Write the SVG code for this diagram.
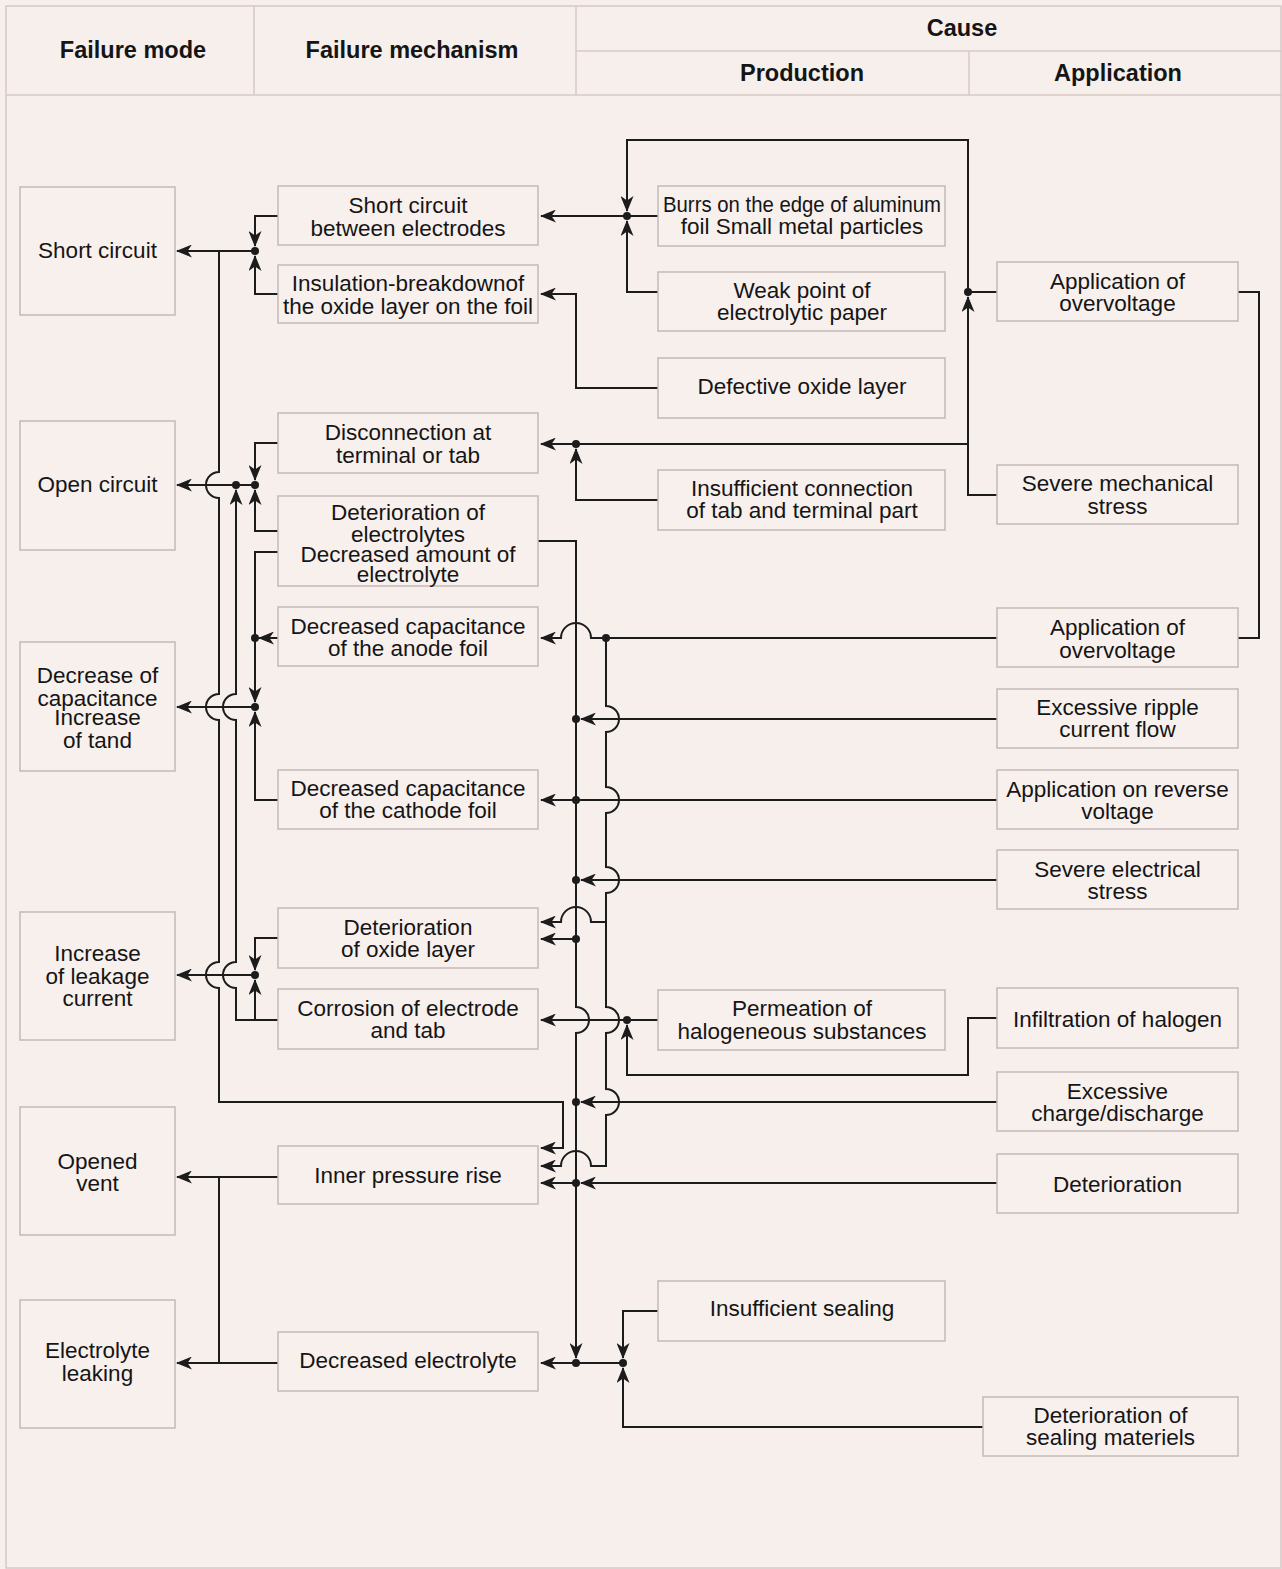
<svg xmlns="http://www.w3.org/2000/svg" width="1282" height="1569" viewBox="0 0 1282 1569">
<style>
.bg{fill:#f7efec}
.grid{stroke:#d8c8c6;stroke-width:1.5;fill:none}
.hd{font-family:"Liberation Sans",Arial,sans-serif;font-size:23.5px;font-weight:bold;fill:#151515;text-anchor:middle}
.box{fill:#f8f0ed;stroke:#c3bab8;stroke-width:1.5}
.t{font-family:"Liberation Sans",Arial,sans-serif;font-size:22.5px;fill:#151515;text-anchor:middle}
.c{fill:none;stroke:#1c1c1c;stroke-width:2}
.a{marker-end:url(#ah)}
.d{fill:#1c1c1c}
</style>
<defs>
<marker id="ah" viewBox="0 0 16 13" refX="15" refY="6.5" markerWidth="16" markerHeight="13" markerUnits="userSpaceOnUse" orient="auto">
<path d="M0,0 L16,6.5 L0,13 L4.5,6.5 Z" fill="#1c1c1c"/>
</marker>
</defs>
<rect class="bg" x="0" y="0" width="1282" height="1569"/>
<g id="header">
<rect class="grid" x="6" y="6" width="1275" height="1562"/>
<line class="grid" x1="6" y1="95" x2="1282" y2="95"/>
<line class="grid" x1="254" y1="6" x2="254" y2="95"/>
<line class="grid" x1="576" y1="6" x2="576" y2="95"/>
<line class="grid" x1="576" y1="51" x2="1282" y2="51"/>
<line class="grid" x1="969" y1="51" x2="969" y2="95"/>
<text class="hd" x="133" y="58">Failure mode</text>
<text class="hd" x="412" y="58">Failure mechanism</text>
<text class="hd" x="962" y="36">Cause</text>
<text class="hd" x="802" y="81">Production</text>
<text class="hd" x="1118" y="81">Application</text>
</g>

<g id="connectors">
<!-- short circuit group -->
<path class="c a" d="M255,251 L177,251"/>
<path class="c a" d="M278,216 L255,216 L255,246"/>
<path class="c a" d="M278,294 L255,294 L255,256"/>
<path class="c a" d="M219,251 L219,472 A13,13 0 0 0 219,498 L219,694 A13,13 0 0 0 219,720 L219,962 A13,13 0 0 0 219,988 L219,1102 L563,1102 L563,1148 L541,1148"/>
<!-- open circuit group -->
<path class="c a" d="M255,485 L177,485"/>
<path class="c a" d="M278,443 L255,443 L255,480"/>
<path class="c a" d="M278,531 L255,531 L255,490"/>
<path class="c a" d="M278,1020 L236,1020 L236,988 A13,13 0 0 1 236,962 L236,720 A13,13 0 0 1 236,694 L236,490"/>
<!-- decrease of capacitance group -->
<path class="c a" d="M255,707 L177,707"/>
<path class="c a" d="M278,552 L255,552 L255,702"/>
<path class="c a" d="M278,638 L259,638"/>
<path class="c a" d="M278,800 L255,800 L255,712"/>
<!-- leakage current group -->
<path class="c a" d="M255,975 L177,975"/>
<path class="c a" d="M278,938 L255,938 L255,970"/>
<path class="c a" d="M255,1020 L255,980"/>
<!-- vent / leaking -->
<path class="c a" d="M278,1177 L177,1177"/>
<path class="c a" d="M278,1363 L177,1363"/>
<path class="c" d="M219,1177 L219,1363"/>
<!-- production/application to mechanisms -->
<path class="c a" d="M658,216 L541,216"/>
<path class="c a" d="M658,292 L627,292 L627,221"/>
<path class="c a" d="M968,292 L968,140 L627,140 L627,211"/>
<path class="c a" d="M997,495 L968,495 L968,297"/>
<path class="c" d="M997,292 L968,292"/>
<path class="c" d="M1238,292 L1259,292 L1259,638 L1238,638"/>
<path class="c a" d="M968,444 L541,444"/>
<path class="c a" d="M658,500 L576,500 L576,449"/>
<path class="c a" d="M658,388 L576,388 L576,294 L541,294"/>
<!-- main bus -->
<path class="c a" d="M538,541 L576,541 L576,1007 A13,13 0 0 1 576,1033 L576,1358"/>
<path class="c a" d="M997,638 L591,638 A15,15 0 0 0 561,638 L541,638"/>
<path class="c a" d="M606,638 L606,706 A13,13 0 0 1 606,732 L606,787 A13,13 0 0 1 606,813 L606,867 A13,13 0 0 1 606,893 L606,1007 A13,13 0 0 1 606,1033 L606,1089 A13,13 0 0 1 606,1115 L606,1166 L591,1166 A15,15 0 0 0 561,1166 L541,1166"/>
<path class="c a" d="M606,922 L591,922 A15,15 0 0 0 561,922 L541,922"/>
<path class="c a" d="M997,719 L581,719"/>
<path class="c a" d="M997,800 L541,800"/>
<path class="c a" d="M997,880 L581,880"/>
<path class="c a" d="M576,939 L541,939"/>
<path class="c a" d="M658,1020 L541,1020"/>
<path class="c a" d="M997,1018 L968,1018 L968,1075 L627,1075 L627,1025"/>
<path class="c a" d="M997,1102 L581,1102"/>
<path class="c a" d="M997,1183 L581,1183"/>
<path class="c a" d="M576,1183 L541,1183"/>
<path class="c a" d="M623,1363 L541,1363"/>
<path class="c a" d="M658,1311 L623,1311 L623,1358"/>
<path class="c a" d="M983,1427 L623,1427 L623,1368"/>
<!-- junction dots -->
<circle class="d" cx="255" cy="251" r="4"/>
<circle class="d" cx="236" cy="485" r="4"/>
<circle class="d" cx="255" cy="485" r="4"/>
<circle class="d" cx="255" cy="638" r="4"/>
<circle class="d" cx="255" cy="707" r="4"/>
<circle class="d" cx="255" cy="975" r="4"/>
<circle class="d" cx="627" cy="216" r="4"/>
<circle class="d" cx="968" cy="292" r="4"/>
<circle class="d" cx="576" cy="444" r="4"/>
<circle class="d" cx="606" cy="638" r="4"/>
<circle class="d" cx="576" cy="719" r="4"/>
<circle class="d" cx="576" cy="800" r="4"/>
<circle class="d" cx="576" cy="880" r="4"/>
<circle class="d" cx="576" cy="939" r="4"/>
<circle class="d" cx="627" cy="1020" r="4"/>
<circle class="d" cx="576" cy="1102" r="4"/>
<circle class="d" cx="576" cy="1183" r="4"/>
<circle class="d" cx="576" cy="1363" r="4"/>
<circle class="d" cx="623" cy="1363" r="4"/>
</g>

<!-- failure modes -->
<g id="fm-short"><rect class="box" x="20" y="187" width="155" height="128"/><text class="t" x="97.5" y="258">Short circuit</text></g>
<g id="fm-open"><rect class="box" x="20" y="421" width="155" height="129"/><text class="t" x="97.5" y="492">Open circuit</text></g>
<g id="fm-decrease"><rect class="box" x="20" y="642" width="155" height="129"/><text class="t" x="97.5" y="683">Decrease of</text><text class="t" x="97.5" y="706">capacitance</text><text class="t" x="97.5" y="725">Increase</text><text class="t" x="97.5" y="748">of tand</text></g>
<g id="fm-leakage"><rect class="box" x="20" y="912" width="155" height="128"/><text class="t" x="97.5" y="961">Increase</text><text class="t" x="97.5" y="984">of leakage</text><text class="t" x="97.5" y="1006">current</text></g>
<g id="fm-vent"><rect class="box" x="20" y="1107" width="155" height="128"/><text class="t" x="97.5" y="1169">Opened</text><text class="t" x="97.5" y="1191">vent</text></g>
<g id="fm-leaking"><rect class="box" x="20" y="1300" width="155" height="128"/><text class="t" x="97.5" y="1358">Electrolyte</text><text class="t" x="97.5" y="1381">leaking</text></g>

<!-- mechanisms -->
<g id="m-short"><rect class="box" x="278" y="186" width="260" height="59"/><text class="t" x="408" y="213">Short circuit</text><text class="t" x="408" y="236">between electrodes</text></g>
<g id="m-insulation"><rect class="box" x="278" y="265" width="260" height="58"/><text class="t" x="408" y="291">Insulation-breakdownof</text><text class="t" x="408" y="314">the oxide layer on the foil</text></g>
<g id="m-disconnection"><rect class="box" x="278" y="413" width="260" height="60"/><text class="t" x="408" y="440">Disconnection at</text><text class="t" x="408" y="463">terminal or tab</text></g>
<g id="m-electrolytes"><rect class="box" x="278" y="496" width="260" height="90"/><text class="t" x="408" y="520">Deterioration of</text><text class="t" x="408" y="542">electrolytes</text><text class="t" x="408" y="562">Decreased amount of</text><text class="t" x="408" y="582">electrolyte</text></g>
<g id="m-anode"><rect class="box" x="278" y="607" width="260" height="59"/><text class="t" x="408" y="634">Decreased capacitance</text><text class="t" x="408" y="656">of the anode foil</text></g>
<g id="m-cathode"><rect class="box" x="278" y="770" width="260" height="59"/><text class="t" x="408" y="796">Decreased capacitance</text><text class="t" x="408" y="818">of the cathode foil</text></g>
<g id="m-oxide"><rect class="box" x="278" y="908" width="260" height="60"/><text class="t" x="408" y="935">Deterioration</text><text class="t" x="408" y="957">of oxide layer</text></g>
<g id="m-corrosion"><rect class="box" x="278" y="989" width="260" height="60"/><text class="t" x="408" y="1016">Corrosion of electrode</text><text class="t" x="408" y="1038">and tab</text></g>
<g id="m-pressure"><rect class="box" x="278" y="1146" width="260" height="58"/><text class="t" x="408" y="1183">Inner pressure rise</text></g>
<g id="m-decreased"><rect class="box" x="278" y="1332" width="260" height="59"/><text class="t" x="408" y="1368">Decreased electrolyte</text></g>

<!-- production causes -->
<g id="p-burrs"><rect class="box" x="658" y="186" width="287" height="60"/><text class="t" x="802" y="212" textLength="278" lengthAdjust="spacingAndGlyphs">Burrs on the edge of aluminum</text><text class="t" x="802" y="234">foil Small metal particles</text></g>
<g id="p-weak"><rect class="box" x="658" y="272" width="287" height="59"/><text class="t" x="802" y="298">Weak point of</text><text class="t" x="802" y="320">electrolytic paper</text></g>
<g id="p-defective"><rect class="box" x="658" y="358" width="287" height="60"/><text class="t" x="802" y="394">Defective oxide layer</text></g>
<g id="p-connection"><rect class="box" x="658" y="470" width="287" height="60"/><text class="t" x="802" y="496">Insufficient connection</text><text class="t" x="802" y="518">of tab and terminal part</text></g>
<g id="p-permeation"><rect class="box" x="658" y="990" width="287" height="60"/><text class="t" x="802" y="1016">Permeation of</text><text class="t" x="802" y="1039">halogeneous substances</text></g>
<g id="p-sealing"><rect class="box" x="658" y="1281" width="287" height="60"/><text class="t" x="802" y="1316">Insufficient sealing</text></g>

<!-- application causes -->
<g id="a-overvoltage1"><rect class="box" x="997" y="262" width="241" height="59"/><text class="t" x="1117.5" y="289">Application of</text><text class="t" x="1117.5" y="311">overvoltage</text></g>
<g id="a-mechanical"><rect class="box" x="997" y="465" width="241" height="59"/><text class="t" x="1117.5" y="491">Severe mechanical</text><text class="t" x="1117.5" y="514">stress</text></g>
<g id="a-overvoltage2"><rect class="box" x="997" y="608" width="241" height="59"/><text class="t" x="1117.5" y="635">Application of</text><text class="t" x="1117.5" y="658">overvoltage</text></g>
<g id="a-ripple"><rect class="box" x="997" y="689" width="241" height="59"/><text class="t" x="1117.5" y="715">Excessive ripple</text><text class="t" x="1117.5" y="737">current flow</text></g>
<g id="a-reverse"><rect class="box" x="997" y="770" width="241" height="59"/><text class="t" x="1117.5" y="797">Application on reverse</text><text class="t" x="1117.5" y="819">voltage</text></g>
<g id="a-electrical"><rect class="box" x="997" y="850" width="241" height="59"/><text class="t" x="1117.5" y="877">Severe electrical</text><text class="t" x="1117.5" y="899">stress</text></g>
<g id="a-halogen"><rect class="box" x="997" y="988" width="241" height="60"/><text class="t" x="1117.5" y="1027">Infiltration of halogen</text></g>
<g id="a-charge"><rect class="box" x="997" y="1072" width="241" height="59"/><text class="t" x="1117.5" y="1099">Excessive</text><text class="t" x="1117.5" y="1121">charge/discharge</text></g>
<g id="a-deterioration"><rect class="box" x="997" y="1154" width="241" height="59"/><text class="t" x="1117.5" y="1192">Deterioration</text></g>
<g id="a-sealing"><rect class="box" x="983" y="1397" width="255" height="59"/><text class="t" x="1110.5" y="1423">Deterioration of</text><text class="t" x="1110.5" y="1445">sealing materiels</text></g>
</svg>
